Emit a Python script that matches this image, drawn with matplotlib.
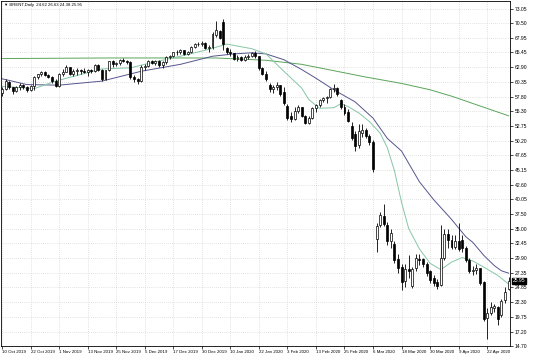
import numpy as np
import matplotlib
matplotlib.use('Agg')
import matplotlib.pyplot as plt
import matplotlib.transforms as mtransforms

plt.rcParams['font.family'] = ['Liberation Sans', 'DejaVu Sans']

# daily bars, 10 Oct 2019 .. 30 Apr 2020 (one entry per trading day)
opens = [58.4, 59.2, 60.4, 59.4, 58.8, 59.4, 59.9, 59.4, 59.0, 59.7,
         61.2, 61.7, 62.0, 61.6, 61.2, 60.6, 59.7, 61.7, 62.1, 62.9,
         61.8, 62.3, 62.5, 62.2, 62.1, 62.4, 62.3, 63.2, 62.5, 60.9,
         62.4, 63.9, 63.4, 63.6, 64.2, 63.9, 63.8, 61.2, 60.9, 60.6,
         62.9, 63.1, 63.9, 63.7, 63.9, 63.3, 63.8, 64.6, 64.8, 65.5,
         65.6, 65.8, 65.2, 65.5, 66.4, 66.9, 67.0, 67.1, 66.2, 66.4,
         68.4, 69.2, 70.8, 66.2, 65.6, 65.3, 64.3, 64.6, 64.2, 64.7,
         64.9, 65.3, 64.8, 62.7, 61.8, 59.9, 59.2, 59.5, 59.8, 58.6,
         56.2, 54.4, 54.0, 55.4, 56.0, 54.4, 53.3, 54.1, 55.8, 56.3,
         57.2, 57.6, 57.7, 59.1, 59.3, 57.2, 56.1, 55.2, 52.7, 51.3,
         49.4, 51.6, 52.0, 51.0, 50.0, 33.2, 35.6, 37.1, 35.7, 32.8,
         32.3, 29.8, 28.4, 25.9, 28.0, 25.1, 28.1, 29.8, 29.7, 28.8,
         27.6, 26.4, 25.7, 25.3, 30.0, 34.1, 33.1, 31.9, 32.8, 33.0,
         31.7, 29.6, 27.7, 27.8, 28.1, 25.8, 19.5, 20.4, 21.3, 21.5,
         20.0, 22.6, 24.62]
highs = [59.4, 60.8, 60.5, 59.5, 59.6, 60.1, 60.0, 59.6, 59.9, 61.3,
         61.8, 62.3, 62.2, 61.8, 61.4, 60.9, 61.9, 62.6, 63.2, 63.0,
         62.6, 62.7, 62.6, 62.7, 62.6, 62.6, 63.4, 63.5, 62.6, 62.5,
         64.0, 64.1, 63.8, 64.3, 64.5, 64.1, 63.9, 61.5, 61.1, 63.2,
         63.5, 64.2, 64.1, 64.1, 64.1, 64.0, 64.8, 65.0, 65.6, 65.8,
         66.0, 65.9, 65.7, 66.6, 67.1, 67.3, 67.5, 67.2, 66.8, 69.0,
         70.9, 69.4, 71.3, 66.4, 66.0, 65.4, 65.0, 64.8, 65.0, 65.1,
         65.6, 65.7, 64.9, 62.9, 62.2, 60.2, 59.9, 60.3, 59.9, 59.4,
         56.6, 55.2, 56.1, 56.4, 56.1, 54.6, 54.4, 56.0, 56.5, 57.4,
         57.8, 57.9, 59.3, 60.0, 59.5, 57.4, 56.6, 55.6, 53.5, 51.8,
         53.0, 53.1, 52.4, 51.4, 50.3, 36.0, 37.9, 39.3, 36.2, 35.0,
         32.8, 30.6, 28.9, 28.9, 30.4, 28.3, 30.6, 30.6, 30.0, 29.3,
         27.9, 27.0, 26.2, 35.6, 35.0, 35.0, 33.9, 33.9, 35.9, 33.9,
         32.0, 29.9, 28.6, 28.9, 28.2, 26.0, 21.2, 22.3, 22.0, 21.6,
         22.8, 24.9, 26.63]
lows = [57.9, 59.0, 59.1, 58.3, 58.6, 58.9, 59.1, 58.6, 58.8, 59.0,
        60.9, 61.4, 61.3, 61.1, 60.2, 59.4, 59.5, 61.4, 62.0, 61.6,
        61.3, 61.5, 61.7, 61.9, 61.4, 61.9, 62.1, 62.3, 60.6, 60.7,
        62.3, 63.0, 63.1, 63.3, 63.8, 63.5, 60.8, 60.4, 60.0, 60.4,
        62.5, 62.9, 63.4, 63.3, 63.0, 62.8, 63.5, 64.3, 64.6, 65.0,
        65.2, 65.0, 65.0, 65.4, 66.2, 66.5, 66.6, 66.0, 65.6, 66.1,
        68.1, 67.8, 65.8, 65.1, 64.9, 64.1, 64.0, 63.9, 64.0, 64.4,
        64.7, 64.5, 62.5, 61.6, 60.6, 58.6, 58.4, 58.9, 58.0, 56.3,
        53.7, 53.5, 53.8, 54.9, 54.3, 53.1, 53.1, 53.9, 55.2, 56.1,
        56.9, 56.7, 57.5, 58.6, 57.9, 55.6, 54.7, 53.4, 50.3, 48.5,
        48.9, 50.8, 50.6, 49.5, 44.8, 31.0, 35.2, 35.4, 32.2, 31.6,
        29.0, 27.3, 24.4, 24.9, 26.5, 24.8, 27.6, 28.7, 28.3, 26.8,
        25.6, 25.0, 24.6, 25.0, 29.5, 31.7, 31.5, 31.4, 31.2, 31.0,
        29.3, 27.4, 26.9, 27.2, 25.3, 19.0, 15.9, 20.1, 20.5, 18.3,
        19.7, 22.2, 24.38]
closes = [59.1, 60.5, 59.4, 58.8, 59.4, 59.9, 59.4, 59.0, 59.7, 61.2,
          61.7, 62.0, 61.6, 61.2, 60.6, 59.6, 61.7, 62.1, 62.9, 61.8,
          62.3, 62.5, 62.2, 62.1, 62.4, 62.3, 63.2, 62.5, 60.9, 62.4,
          63.9, 63.4, 63.6, 64.2, 64.0, 63.8, 61.2, 60.9, 60.5, 62.9,
          63.1, 63.9, 63.7, 63.9, 63.3, 63.8, 64.6, 64.8, 65.5, 65.6,
          65.8, 65.2, 65.5, 66.4, 66.9, 67.0, 67.1, 66.2, 66.4, 68.6,
          69.4, 68.0, 66.9, 65.6, 65.3, 64.3, 64.6, 64.2, 64.7, 64.9,
          65.3, 64.8, 62.7, 61.8, 60.8, 59.2, 59.5, 59.8, 58.3, 56.8,
          54.2, 54.0, 55.4, 56.0, 54.5, 53.3, 54.1, 55.8, 56.3, 57.2,
          57.6, 57.8, 59.1, 59.3, 58.3, 56.1, 54.9, 53.6, 50.7, 49.2,
          51.9, 52.1, 51.0, 50.0, 45.3, 35.4, 37.3, 35.8, 32.8, 34.3,
          29.6, 28.2, 25.8, 28.0, 27.7, 28.0, 29.9, 29.6, 28.8, 27.3,
          26.1, 25.6, 25.0, 29.9, 34.1, 33.1, 31.9, 32.8, 31.5, 31.7,
          29.6, 27.7, 27.8, 28.2, 25.6, 19.4, 20.4, 21.4, 21.7, 19.3,
          22.5, 24.1, 25.95]

# moving averages (bar index, price)
ma_fast_x = [0, 9, 15, 28, 36, 42, 50, 58, 63, 70, 74, 79, 84, 86, 89, 93, 95, 97,
             100, 103, 106, 108, 110, 112, 114, 117, 120, 123, 126, 129, 132, 136, 139, 142]
ma_fast_y = [59.6, 59.2, 60.5, 62.6, 62.8, 63.7, 64.8, 66.0, 66.9, 66.1, 65.2, 62.2, 59.3,
             57.3, 55.8, 55.9, 56.6, 56.1, 55.0, 53.5, 51.5, 49.0, 45.0, 39.5, 35.0, 31.5,
             29.0, 27.9, 29.2, 30.0, 29.4, 28.0, 26.9, 25.4]
ma_mid_x = [0, 7, 16, 28, 39, 50, 59, 65, 70, 74, 79, 84, 88, 93, 99, 104, 108, 112,
            117, 121, 126, 130, 132, 135, 138, 140, 142]
ma_mid_y = [60.9, 59.9, 59.8, 60.5, 62.2, 63.4, 64.8, 65.2, 65.4, 65.2, 64.2, 62.5, 61.0,
            59.0, 56.9, 54.1, 50.6, 48.4, 43.1, 40.0, 36.6, 33.6, 32.6, 30.4, 28.6, 27.7, 27.3]
ma_slow_x = [0, 30, 60, 74, 84, 93, 102, 112, 120, 126, 134, 142]
ma_slow_y = [64.4, 64.5, 64.5, 64.1, 63.4, 62.3, 61.2, 60.1, 59.0, 57.9, 56.2, 54.5]

price_ticks = [73.05, 70.50, 67.95, 65.45, 62.90, 60.35, 57.80, 55.30, 52.75, 50.20,
               47.65, 45.15, 42.60, 40.05, 37.50, 35.00, 32.45, 29.90, 27.35, 24.85,
               22.30, 19.75, 17.20, 14.70]
date_ticks = list(range(0, 137, 8))
date_labels = ['10 Oct 2019', '22 Oct 2019', '1 Nov 2019', '13 Nov 2019', '25 Nov 2019',
               '5 Dec 2019', '17 Dec 2019', '30 Dec 2019', '10 Jan 2020', '22 Jan 2020',
               '3 Feb 2020', '13 Feb 2020', '25 Feb 2020', '6 Mar 2020', '18 Mar 2020',
               '30 Mar 2020', '9 Apr 2020', '22 Apr 2020']

o = np.array(opens); h = np.array(highs); l = np.array(lows); c = np.array(closes)
idx = np.arange(len(c))

fig = plt.figure(figsize=(5.36, 3.57), dpi=100)
ax = fig.add_axes([1/536, 11/357, 509/536, 345/357])

ax.set_xlim(-0.3, 142.4)
ax.set_ylim(14.70, 74.35)

# grid
for v in price_ticks:
    ax.axhline(v, color='#c8c8c8', lw=0.5, ls=(0, (1, 2)), zorder=0)
for t in date_ticks:
    ax.axvline(t, color='#c8c8c8', lw=0.5, ls=(0, (1, 2)), zorder=0)

# moving averages
ax.plot(ma_slow_x, ma_slow_y, color='#5aa55a', lw=0.7, zorder=1)
ax.plot(ma_mid_x, ma_mid_y, color='#55558f', lw=0.7, zorder=1)
ax.plot(ma_fast_x, ma_fast_y, color='#86c6a6', lw=0.7, zorder=1)

# candles
up = c >= o
ax.vlines(idx, l, h, color='black', lw=0.6, zorder=2)
body = np.maximum(np.abs(c - o), 0.05)
ax.bar(idx, body, bottom=np.minimum(o, c), width=0.55,
       color=np.where(up, 'white', 'black'), edgecolor='black', lw=0.5, zorder=3)

# axes styling
for s in ax.spines.values():
    s.set_linewidth(0.6)
    s.set_color('black')
ax.yaxis.tick_right()
ax.set_yticks(price_ticks)
ax.set_yticklabels(['%.2f' % v for v in price_ticks])
ax.set_xticks(date_ticks)
ax.set_xticklabels(date_labels, ha='left')
ax.tick_params(axis='y', length=2, width=0.5, pad=1.5, labelsize=3.6)
ax.tick_params(axis='x', length=2, width=0.5, pad=1, labelsize=3.2)

# header and last price tag
ax.text(0.005, 0.995, '\u25bc BRENT,Daily  24.62 26.63 24.38 25.95', transform=ax.transAxes,
        ha='left', va='top', fontsize=3.1)
trans = mtransforms.blended_transform_factory(ax.transAxes, ax.transData)
ax.text(1.006, closes[-1], '%.2f' % closes[-1], transform=trans, ha='left', va='center',
        fontsize=3.6, color='white', bbox=dict(boxstyle='square,pad=0.15', fc='black', ec='black'))

fig.savefig('out.png', dpi=100, facecolor='white')
